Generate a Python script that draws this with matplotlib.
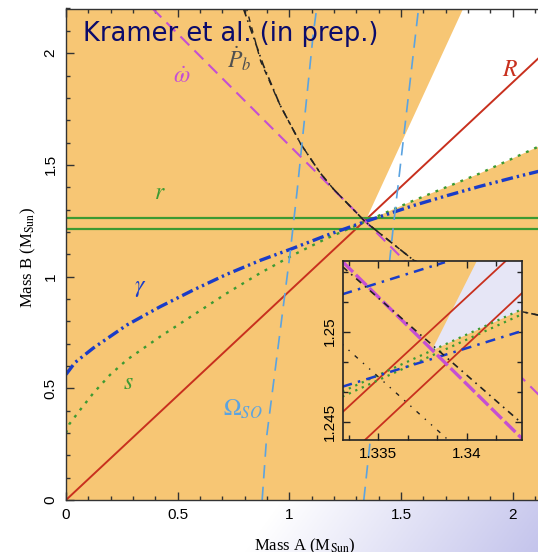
import numpy as np
import matplotlib
matplotlib.use("Agg")
import matplotlib.pyplot as plt
from matplotlib.ticker import FixedLocator, FixedFormatter, MultipleLocator, AutoMinorLocator

plt.rcParams['mathtext.fontset'] = 'stix'
plt.rcParams['font.family'] = ['Liberation Sans', 'DejaVu Sans']

# ---- constraints in the mass-mass plane (M_sun) ----
# R : mass ratio
ratio_x = [0.0, 2.2]
ratio_y = [0.0, 2.057]

# r : Shapiro range, lower / upper bound
shapiro_r = [1.215, 1.262]

# s : Shapiro shape
shape_x = [0.0, 0.015, 0.063, 0.122, 0.197, 0.272, 0.421, 0.570, 0.719, 0.868,
           1.017, 1.167, 1.339, 1.555, 1.853, 2.113, 2.2]
shape_y = [0.300, 0.340, 0.403, 0.478, 0.560, 0.627, 0.731, 0.828, 0.925, 1.015,
           1.097, 1.171, 1.246, 1.340, 1.462, 1.581, 1.618]

# gamma : gravitational redshift / time dilation
gamma_x = [0.0, 0.04, 0.122, 0.272, 0.421, 0.570, 0.719, 0.868, 1.017, 1.167,
           1.339, 1.555, 1.704, 1.853, 2.002, 2.2]
gamma_y = [0.562, 0.615, 0.680, 0.783, 0.865, 0.940, 1.010, 1.072, 1.127, 1.185,
           1.246, 1.318, 1.362, 1.404, 1.443, 1.492]

# omega-dot : periastron advance
omdot_x = [0.387, 2.2]
omdot_y = [2.2, 0.387]

# Pb-dot : orbital decay (two bounds)
pbdot_x = [0.794, 0.883, 0.958, 1.05, 1.137, 1.197, 1.339, 1.555, 2.04, 2.2]
pbdot_y = [2.2, 1.947, 1.768, 1.595, 1.465, 1.392, 1.246, 1.074, 0.843, 0.81]
pbdot2_x = [0.808, 0.872, 0.958, 1.05, 1.137, 1.197, 1.339, 1.555, 2.04, 2.2]
pbdot2_y = [2.2, 1.962, 1.768, 1.595, 1.465, 1.392, 1.246, 1.074, 0.843, 0.81]

# Omega_SO : geodetic precession (two bounds)
so_lo_x = [0.878, 0.898, 1.003, 1.035, 1.107, 1.122]
so_lo_y = [0.0, 0.283, 1.104, 1.388, 2.089, 2.2]
so_hi_x = [1.333, 1.465, 1.503, 1.578]
so_hi_y = [0.0, 1.223, 1.552, 2.2]

# allowed wedge: upper edge meets the top of the plot here
wedge_top = (1.778, 2.2)
apex = (1.339, 1.246)

x_ticks = [0, 0.5, 1, 1.5, 2]
x_ticklabels = ['0', '0.5', '1', '1.5', '2']
y_ticks = [0, 0.5, 1, 1.5, 2]
y_ticklabels = ['0', '0.5', '1', '1.5', '2']

# ---- zoom around the intersection ----
zoom_xlim = (1.3330, 1.3431)
zoom_ylim = (1.2440, 1.2539)
zr_a_x, zr_a_y = [1.33298, 1.34217], [1.24552, 1.25389]
zr_b_x, zr_b_y = [1.33425, 1.34311], [1.24398, 1.25213]
zom_x, zom_y = [1.33298, 1.34311], [1.25389, 1.24407]
zpb_a_x, zpb_a_y = [1.33298, 1.34311], [1.25361, 1.24491]
zpb_b_x, zpb_b_y = [1.33298, 1.33896], [1.24929, 1.24398]
zg_a_x, zg_a_y = [1.33298, 1.33877], [1.25207, 1.25385]
zg_b_x, zg_b_y = [1.33298, 1.34311], [1.24694, 1.25003]
zs_a_x, zs_a_y = [1.33298, 1.34311], [1.24667, 1.25124]
zs_b_x, zs_b_y = [1.33298, 1.34311], [1.24639, 1.25096]
zwedge_x = [1.3431, 1.33802, 1.34056]
zwedge_y = [1.25121, 1.24894, 1.2539]
zoom_x_ticks, zoom_x_labels = [1.335, 1.34], ['1.335', '1.34']
zoom_y_ticks, zoom_y_labels = [1.245, 1.25], ['1.245', '1.25']

ORANGE = '#F7C674'
RED = '#C8301E'
GREEN = '#3C9A32'
BLUE = '#1A3CC8'
MAGENTA = '#C54FD3'
LTBLUE = '#5BA3E0'
BLACK = '#222222'

W, H = 538, 552
fig = plt.figure(figsize=(W / 100, H / 100), dpi=100)

# slide background: white fading to lavender toward the lower right
bg = fig.add_axes([0, 0, 1, 1], zorder=-5)
px, py = np.meshgrid(np.arange(W), np.arange(H))
t = np.clip(1 - 1.83 * (W - px) / W - 1.35 * (H - py) / H, 0, 1)
lav = np.array([196, 196, 236]) / 255.0
img = (1 - t[..., None]) * 1.0 + t[..., None] * lav
bg.imshow(img, aspect='auto', extent=(0, 1, 0, 1), origin='upper')
bg.axis('off')

ax = fig.add_axes([66 / W, 52 / H, 491.5 / W, 491.5 / H], zorder=1)
ax.set_facecolor('none')
ax.set_xlim(0, 2.2)
ax.set_ylim(0, 2.2)

# orange shading everywhere except the wedge between the R-side edge and s
sx = np.array(shape_x)
sy = np.array(shape_y)
right = sx >= apex[0]
poly_x = [0, 2.2] + list(sx[right][::-1]) + [wedge_top[0], 0]
poly_y = [0, 0] + list(sy[right][::-1]) + [wedge_top[1], 2.2]
ax.fill(poly_x, poly_y, color=ORANGE, lw=0, zorder=0)

ax.plot(ratio_x, ratio_y, color=RED, lw=1.4)
for yv in shapiro_r:
    ax.axhline(yv, color=GREEN, lw=1.6)
ax.plot(shape_x, shape_y, color=GREEN, lw=1.7, ls=(0, (1.2, 2.6)))
ax.plot(gamma_x, gamma_y, color=BLUE, lw=2.4,
        ls=(0, (3.5, 1.2, 0.7, 1.2, 0.7, 1.2)))
ax.plot(omdot_x, omdot_y, color=MAGENTA, lw=1.5, ls=(0, (6, 3.5)))
ax.plot(pbdot_x, pbdot_y, color=BLACK, lw=1.2, ls=(0, (5, 2.5, 1, 2.5)))
ax.plot(pbdot2_x, pbdot2_y, color=BLACK, lw=1.0, ls=(2, (4, 4)))
ax.plot(so_lo_x, so_lo_y, color=LTBLUE, lw=1.2, ls=(0, (8, 5)))
ax.plot(so_hi_x, so_hi_y, color=LTBLUE, lw=1.2, ls=(0, (8, 5)))

lab = dict(ha='center', va='center', fontsize=17)
ax.text(0.421, 1.373, r'$r$', color=GREEN, **lab)
ax.text(0.331, 0.948, r'$\gamma$', color=BLUE, **lab)
ax.text(0.279, 0.522, r'$s$', color=GREEN, **lab)
ax.text(0.79, 0.405, r'$\Omega_{SO}$', color=LTBLUE, **lab)
ax.text(1.987, 1.925, r'$R$', color=RED, **lab)
ax.text(0.519, 1.895, r'$\dot{\omega}$', color=MAGENTA, **lab)
ax.text(0.775, 1.975, r'$\dot{P}_b$', color='#505050', **lab)

ax.xaxis.set_major_locator(FixedLocator(x_ticks))
ax.xaxis.set_major_formatter(FixedFormatter(x_ticklabels))
ax.yaxis.set_major_locator(FixedLocator(y_ticks))
ax.yaxis.set_major_formatter(FixedFormatter(y_ticklabels))
ax.xaxis.set_minor_locator(MultipleLocator(0.1))
ax.yaxis.set_minor_locator(MultipleLocator(0.1))
ax.tick_params(which='both', direction='in', top=True, right=True, width=1,
               labelsize=11, color='#333333')
ax.tick_params(which='major', length=6, pad=6)
ax.tick_params(which='minor', length=3)
ax.tick_params(axis='y', labelrotation=90)
for t_ in ax.get_yticklabels():
    t_.set_va('center')
for sp in ax.spines.values():
    sp.set_linewidth(1.0)
    sp.set_color('#333333')

# inset
ins = fig.add_axes([342.7 / W, (H - 439.7) / H, 179 / W, 178.4 / H], zorder=2)
ins.set_facecolor('#E6E6F6')
ins.set_xlim(*zoom_xlim)
ins.set_ylim(*zoom_ylim)
ipx = [zoom_xlim[0], zoom_xlim[1]] + zwedge_x + [zoom_xlim[0]]
ipy = [zoom_ylim[0], zoom_ylim[0]] + zwedge_y + [zoom_ylim[1]]
ins.fill(ipx, ipy, color=ORANGE, lw=0, zorder=0)

ins.plot(zr_a_x, zr_a_y, color=RED, lw=1.3)
ins.plot(zr_b_x, zr_b_y, color=RED, lw=1.3)
ins.plot(zs_a_x, zs_a_y, color=GREEN, lw=1.6, ls=(0, (1, 2.2)))
ins.plot(zs_b_x, zs_b_y, color=GREEN, lw=1.6, ls=(0, (1, 2.2)))
ins.plot(zg_a_x, zg_a_y, color=BLUE, lw=1.8, ls=(0, (4, 2.5, 1, 2.5)))
ins.plot(zg_b_x, zg_b_y, color=BLUE, lw=1.8, ls=(0, (4, 2.5, 1, 2.5)))
ins.plot(zom_x, zom_y, color=MAGENTA, lw=2.4, ls=(0, (4.5, 1.2)))
ins.plot(zpb_a_x, zpb_a_y, color=BLACK, lw=1.2, ls=(0, (4, 3, 1, 3)))
ins.plot(zpb_b_x, zpb_b_y, color=BLACK, lw=1.0, ls=(0, (1, 5, 1, 5, 3, 5)))

ins.xaxis.set_major_locator(FixedLocator(zoom_x_ticks))
ins.xaxis.set_major_formatter(FixedFormatter(zoom_x_labels))
ins.yaxis.set_major_locator(FixedLocator(zoom_y_ticks))
ins.yaxis.set_major_formatter(FixedFormatter(zoom_y_labels))
ins.xaxis.set_minor_locator(AutoMinorLocator(3))
ins.yaxis.set_minor_locator(AutoMinorLocator(3))
ins.tick_params(which='both', direction='in', top=True, right=True, width=1,
                labelsize=11, color='#222222')
ins.tick_params(which='major', length=5, pad=5)
ins.tick_params(which='minor', length=3.5)
ins.tick_params(axis='y', labelrotation=90, pad=4)
for t_ in ins.get_yticklabels():
    t_.set_va('center')
for sp in ins.spines.values():
    sp.set_linewidth(1.2)
    sp.set_color('#222222')

fig.text(305 / W, 2 / H, r'Mass A (M$_{\rm Sun}$)', ha='center', va='baseline',
         fontsize=12, family='Liberation Serif')
fig.text(28 / W, (H - 258) / H, r'Mass B (M$_{\rm Sun}$)', ha='center',
         va='center', rotation=90, fontsize=12, family='Liberation Serif')
fig.text(83 / W, 1 - 41 / H, 'Kramer et al. (in prep.)', ha='left',
         va='baseline', fontsize=18.5, color='#0B0B6B', family='DejaVu Sans',
         zorder=10)

fig.savefig('out.png', dpi=100)
